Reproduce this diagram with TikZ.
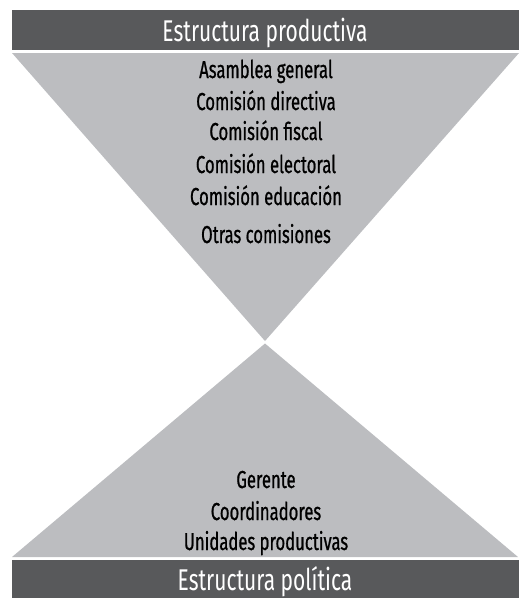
\documentclass[tikz,border=0pt]{standalone}
\usepackage{fontspec}
\setmainfont{Fira Sans}[FakeStretch=0.7]
\newfontfamily\itemfont{Fira Sans}[FakeStretch=0.68, FakeBold=0.8]
\definecolor{bardark}{HTML}{58595B}
\definecolor{trigray}{HTML}{BCBDC0}

\begin{document}
\begin{tikzpicture}[x=1pt, y=-1pt,
  item/.style={font=\itemfont\fontsize{24.5}{24.5}\selectfont, anchor=base, inner sep=0pt},
  heading/.style={font=\fontsize{30}{30}\selectfont, anchor=base, inner sep=0pt, text=white}]
\useasboundingbox (0,0) rectangle (519,598);
% bars
\fill[bardark] (12,10) rectangle (519,50);
\fill[bardark] (12,560) rectangle (519,598);
% triangles
\fill[trigray] (12,53) -- (519,53) -- (265,341) -- cycle;
\fill[trigray] (12,557) -- (518,557) -- (265,343.5) -- cycle;
\node[heading] (prod) at (265,41) {Estructura productiva};
\node[heading] (pol) at (265,590) {Estructura política};
% upper list
\node[item] (asamblea) at (266,78) {Asamblea general};
\node[item] (directiva) at (266,110) {Comisión directiva};
\node[item] (fiscal) at (266,140) {Comisión fiscal};
\node[item] (electoral) at (266,173) {Comisión electoral};
\node[item] (educacion) at (266,205) {Comisión educación};
\node[item] (otras) at (266,243) {Otras comisiones};
% lower list
\node[item] (gerente) at (266,488) {Gerente};
\node[item] (coord) at (266,520) {Coordinadores};
\node[item] (unidades) at (266,550) {Unidades productivas};
\end{tikzpicture}
\end{document}
